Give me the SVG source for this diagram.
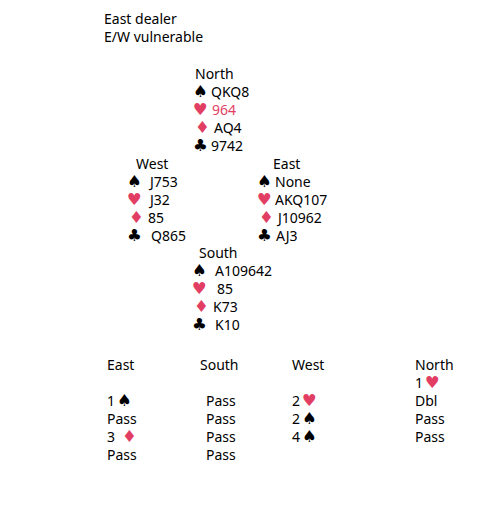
<svg xmlns="http://www.w3.org/2000/svg" width="504" height="505" viewBox="0 0 504 505">
<style>
text{font-family:"Noto Sans","Open Sans","DejaVu Sans",sans-serif;font-size:14px;fill:#000}
.s{font-family:"DejaVu Sans",sans-serif;font-size:16.5px}
.r{fill:#E23E64}
</style>
<rect width="504" height="505" fill="#fff"/>
<g id="header">
<text x="104" y="24">East dealer</text>
<text x="104" y="42">E/W vulnerable</text>
</g>
<g id="north">
<text x="195" y="79">North</text>
<text class="s" x="193" y="97">♠</text><text x="211" y="97">QKQ8</text>
<text class="s r" x="193" y="115">♥</text><text class="r" x="212" y="115">964</text>
<text class="s r" x="195" y="133">♦</text><text x="214" y="133">AQ4</text>
<text class="s" x="193" y="151">♣</text><text x="211" y="151">9742</text>
</g>
<g id="west">
<text x="136" y="169">West</text>
<text class="s" x="127" y="187">♠</text><text x="150" y="187">J753</text>
<text class="s r" x="127" y="205">♥</text><text x="150" y="205">J32</text>
<text class="s r" x="129" y="223">♦</text><text x="148" y="223">85</text>
<text class="s" x="127" y="241">♣</text><text x="151" y="241">Q865</text>
</g>
<g id="east">
<text x="273" y="169">East</text>
<text class="s" x="257" y="187">♠</text><text x="275" y="187">None</text>
<text class="s r" x="257" y="205">♥</text><text x="275" y="205">AKQ107</text>
<text class="s r" x="259" y="223">♦</text><text x="278" y="223">J10962</text>
<text class="s" x="257" y="241">♣</text><text x="276" y="241">AJ3</text>
</g>
<g id="south">
<text x="199" y="258">South</text>
<text class="s" x="192" y="276">♠</text><text x="215" y="276">A109642</text>
<text class="s r" x="192" y="294">♥</text><text x="217" y="294">85</text>
<text class="s r" x="194" y="312">♦</text><text x="213" y="312">K73</text>
<text class="s" x="192" y="330">♣</text><text x="215" y="330">K10</text>
</g>
<g id="bidding">
<text x="107" y="370">East</text>
<text x="107" y="406">1</text><text class="s" x="117" y="406">♠</text>
<text x="107" y="424">Pass</text>
<text x="107" y="442">3</text><text class="s r" x="122" y="442">♦</text>
<text x="107" y="460">Pass</text>
<text x="200" y="370">South</text>
<text x="206" y="406">Pass</text>
<text x="206" y="424">Pass</text>
<text x="206" y="442">Pass</text>
<text x="206" y="460">Pass</text>
<text x="292" y="370">West</text>
<text x="292" y="406">2</text><text class="s r" x="302" y="406">♥</text>
<text x="292" y="424">2</text><text class="s" x="302" y="424">♠</text>
<text x="292" y="442">4</text><text class="s" x="302" y="442">♠</text>
<text x="415" y="370">North</text>
<text x="415" y="388">1</text><text class="s r" x="425" y="388">♥</text>
<text x="415" y="406">Dbl</text>
<text x="415" y="424">Pass</text>
<text x="415" y="442">Pass</text>
</g>
</svg>
